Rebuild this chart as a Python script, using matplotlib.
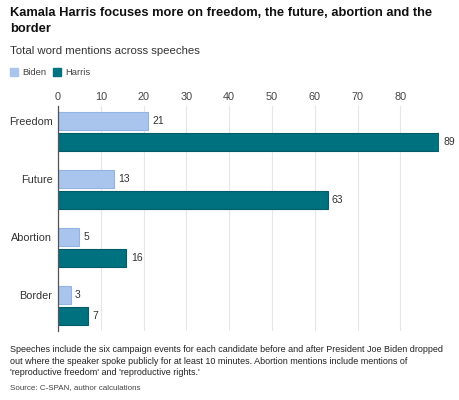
import matplotlib
matplotlib.use("Agg")
import matplotlib.pyplot as plt
import numpy as np
from matplotlib.patches import Rectangle

categories = ["Freedom", "Future", "Abortion", "Border"]
biden = [21, 13, 5, 3]
harris = [89, 63, 16, 7]
xticks = [0, 10, 20, 30, 40, 50, 60, 70, 80]
series_names = ["Biden", "Harris"]
colors = ["#a9c5ee", "#00717f"]
edges = ["#93b3e3", "#005c68"]

plt.rcParams['font.family'] = ['Liberation Sans', 'DejaVu Sans']

fig = plt.figure(figsize=(4.6, 4.0), dpi=100)
ax = fig.add_axes([58/460, 1-331/400, (439-58)/460, (331-106)/400])

y = np.arange(len(categories))
h = 0.319
off = 0.185
ax.barh(y - off, biden, height=h, color=colors[0], edgecolor=edges[0], linewidth=0.8, zorder=3)
ax.barh(y + off, harris, height=h, color=colors[1], edgecolor=edges[1], linewidth=0.8, zorder=3)

for i in range(len(categories)):
    ax.text(biden[i] + 1.0, y[i] - off, str(biden[i]), va='center', ha='left', fontsize=7.5, color='#333333')
    ax.text(harris[i] + 1.0, y[i] + off, str(harris[i]), va='center', ha='left', fontsize=7.5, color='#333333')

ax.set_xlim(0, 89)
ax.set_ylim(3 + 0.44, -0.44)
ax.set_xticks(xticks)
ax.xaxis.tick_top()
ax.tick_params(axis='x', length=0, pad=3, labelsize=7.8, labelcolor='#444444')
ax.set_yticks(y - off)
ax.set_yticklabels(categories)
ax.tick_params(axis='y', length=0, pad=4, labelsize=7.8, labelcolor='#333333')
for s in ['top', 'right', 'bottom']:
    ax.spines[s].set_visible(False)
ax.spines['left'].set_color('#555555')
ax.spines['left'].set_linewidth(0.9)
ax.spines['left'].set_zorder(4)
ax.grid(axis='x', color='#e6e6e6', linewidth=0.8, zorder=0)
ax.set_axisbelow(True)

fig.text(10/460, 1-21/400, "Kamala Harris focuses more on freedom, the future, abortion and the\nborder",
         fontsize=9.3, fontweight='bold', color='#111111', va='center', ha='left', linespacing=1.42)
fig.text(10/460, 1-51/400, "Total word mentions across speeches", fontsize=8.2, color='#333333', va='center')

# legend
lx = 10
for name, c in zip(series_names, colors):
    fig.patches.append(Rectangle((lx/460, 1-76/400), 8/460, 8/400, transform=fig.transFigure, color=c))
    fig.text((lx + 12)/460, 1-72.5/400, name, fontsize=6.8, color='#444444', va='center')
    lx += 43

fig.text(10/460, 1-361/400,
         "Speeches include the six campaign events for each candidate before and after President Joe Biden dropped\n"
         "out where the speaker spoke publicly for at least 10 minutes. Abortion mentions include mentions of\n"
         "'reproductive freedom' and 'reproductive rights.'",
         fontsize=6.5, color='#222222', va='center', ha='left', linespacing=1.3)
fig.text(10/460, 1-388/400, "Source: C-SPAN, author calculations", fontsize=5.8, color='#444444', va='center')

fig.savefig("out.png", dpi=100, facecolor='white')
